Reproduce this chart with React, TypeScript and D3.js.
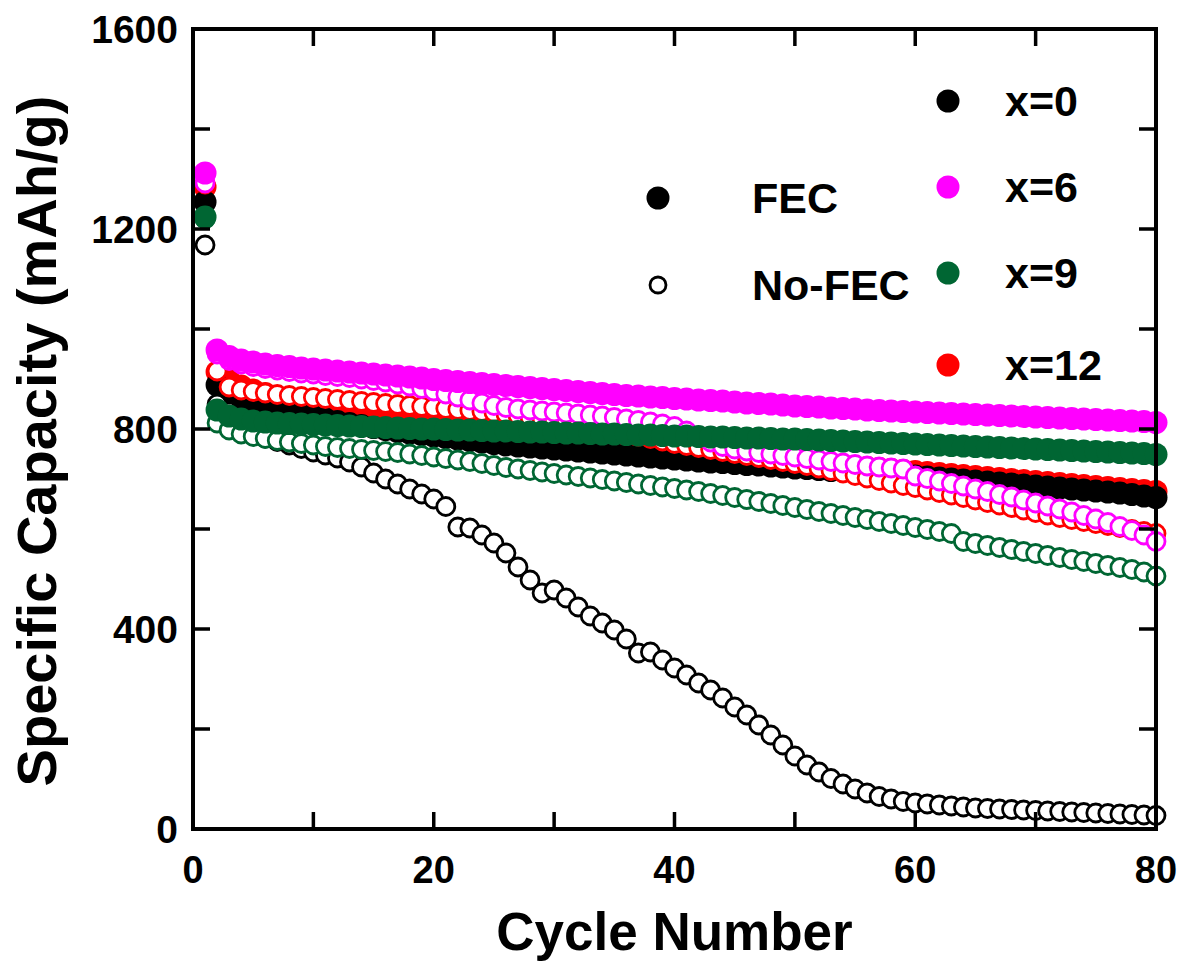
import React from 'react';
import * as d3 from 'd3';

// Specific capacity (mAh/g) vs cycle number, cycles 1..80
const fec0 = [1254, 888, 872, 862, 855, 848, 842, 836, 830, 825, 820, 815, 811, 807, 803, 799, 795, 792, 789, 786, 783, 780, 777, 774, 771, 768, 766, 764, 762, 760, 758, 756, 754, 752, 750, 748, 746, 744, 742, 740, 738, 736, 734, 733, 731, 729, 728, 726, 724, 722, 721, 719, 717, 716, 714, 712, 711, 709, 707, 706, 704, 702, 700, 698, 696, 694, 692, 690, 688, 686, 684, 682, 680, 678, 676, 674, 672, 669, 666, 663];
const fec6 = [1312, 958, 945, 938, 934, 930, 927, 925, 922, 920, 918, 916, 914, 912, 910, 908, 906, 904, 902, 899, 897, 895, 893, 891, 889, 887, 885, 883, 881, 879, 877, 875, 873, 871, 869, 867, 866, 864, 863, 861, 860, 858, 857, 856, 854, 852, 851, 850, 848, 846, 845, 844, 842, 841, 840, 838, 837, 836, 835, 834, 833, 832, 831, 830, 829, 828, 827, 826, 825, 824, 823, 822, 821, 820, 819, 818, 817, 816, 815, 813];
const fec9 = [1224, 838, 826, 820, 816, 814, 812, 811, 810, 809, 808, 807, 806, 805, 804, 803, 802, 801, 800, 800, 799, 798, 798, 797, 796, 796, 795, 794, 794, 793, 792, 792, 791, 790, 790, 789, 788, 788, 787, 786, 786, 785, 784, 784, 783, 782, 782, 781, 780, 780, 779, 778, 777, 776, 775, 774, 773, 772, 771, 770, 769, 768, 767, 766, 765, 764, 763, 762, 761, 760, 759, 758, 757, 756, 755, 754, 753, 752, 751, 749];
const fec12 = [1284, 914, 897, 886, 878, 871, 865, 859, 854, 849, 844, 840, 836, 832, 828, 824, 820, 817, 814, 811, 808, 805, 802, 799, 796, 793, 790, 787, 785, 782, 779, 776, 774, 771, 768, 766, 763, 761, 758, 756, 754, 751, 749, 747, 745, 743, 741, 739, 737, 735, 733, 731, 729, 727, 725, 723, 721, 719, 717, 715, 713, 711, 709, 707, 705, 703, 701, 699, 697, 695, 693, 691, 689, 687, 685, 683, 681, 679, 677, 675];
const nofec0 = [1168, 850, 815, 800, 790, 782, 775, 768, 761, 754, 748, 742, 734, 724, 712, 700, 690, 680, 670, 660, 645, 604, 602, 588, 572, 552, 524, 498, 472, 478, 462, 444, 426, 412, 398, 380, 352, 354, 338, 322, 308, 292, 278, 262, 244, 228, 208, 188, 168, 146, 128, 114, 101, 90, 80, 72, 65, 60, 55, 52, 50, 48, 46, 44, 42, 41, 40, 39, 38, 37, 36, 35, 34, 33, 32, 31, 30, 29, 28, 27];
const nofec6 = [1292, 950, 937, 930, 925, 921, 918, 915, 912, 910, 907, 905, 903, 900, 897, 894, 890, 886, 881, 876, 870, 864, 858, 852, 847, 843, 840, 838, 836, 834, 832, 830, 828, 826, 823, 820, 817, 814, 810, 805, 796, 785, 774, 765, 760, 756, 753, 750, 747, 744, 741, 738, 735, 732, 729, 726, 724, 722, 720, 706, 701, 696, 691, 686, 680, 675, 669, 664, 658, 652, 646, 640, 634, 627, 620, 613, 605, 597, 588, 575];
const nofec9 = [1220, 812, 798, 790, 785, 781, 777, 774, 771, 768, 765, 763, 761, 759, 757, 755, 753, 750, 747, 744, 741, 738, 735, 731, 727, 723, 720, 717, 714, 711, 708, 705, 702, 699, 696, 693, 690, 687, 684, 681, 678, 675, 671, 667, 663, 659, 655, 651, 647, 643, 639, 635, 631, 627, 623, 619, 615, 611, 607, 603, 599, 595, 591, 575, 571, 567, 563, 559, 555, 551, 547, 543, 539, 535, 531, 527, 523, 519, 514, 506];
const nofec12 = [1290, 916, 884, 878, 875, 872, 869, 867, 865, 863, 861, 859, 857, 855, 853, 851, 849, 847, 845, 843, 841, 839, 837, 835, 833, 830, 827, 823, 819, 815, 811, 807, 803, 799, 795, 790, 786, 781, 776, 771, 767, 763, 759, 755, 751, 747, 743, 739, 735, 731, 727, 722, 717, 712, 707, 702, 697, 692, 687, 683, 678, 673, 668, 663, 658, 653, 648, 643, 638, 633, 628, 623, 619, 615, 611, 607, 603, 599, 595, 591];

const xTickLabels = [0, 20, 40, 60, 80];
const yTickLabels = [0, 400, 800, 1200, 1600];
const xMinorTicks = [10, 30, 50, 70];
const yMinorTicks = [200, 600, 1000, 1400];

const seriesLabels = ['x=0', 'x=6', 'x=9', 'x=12'];
const seriesColors = ['#000000', '#FF00FF', '#006633', '#FF0000'];
const typeLabels = ['FEC', 'No-FEC'];

const W = 1180;
const H = 961;
const FONT = '"Liberation Sans", Arial, Helvetica, sans-serif';

export default function App() {
  const x = d3.scaleLinear().domain([0, 80]).range([193, 1156]);
  const y = d3.scaleLinear().domain([0, 1600]).range([829, 29]);
  const [x0, x1] = x.range();
  const [y0, y1] = y.range();
  const tickLen = 17;

  // draw order bottom -> top
  const layers: { data: number[]; color: string; filled: boolean }[] = [
    { data: fec12, color: seriesColors[3], filled: true },
    { data: fec0, color: seriesColors[0], filled: true },
    { data: nofec0, color: seriesColors[0], filled: false },
    { data: nofec9, color: seriesColors[2], filled: false },
    { data: nofec12, color: seriesColors[3], filled: false },
    { data: nofec6, color: seriesColors[1], filled: false },
    { data: fec6, color: seriesColors[1], filled: true },
    { data: fec9, color: seriesColors[2], filled: true },
  ];

  const allX = [...xTickLabels, ...xMinorTicks];
  const allY = [...yTickLabels, ...yMinorTicks];

  const legendRowsY = [101, 187, 273, 365];
  const typeRowsY = [198, 285];

  return (
    <svg width={W} height={H} style={{ position: 'absolute', left: 0, top: 0, background: '#fff' }}>
      <rect x={0} y={0} width={W} height={H} fill="#fff" />
      {/* data */}
      {layers.map((l, li) => (
        <g key={li}>
          {l.data.map((v, i) =>
            l.filled ? (
              <circle key={i} cx={x(i + 1)} cy={y(v)} r={11.5} fill={l.color} />
            ) : (
              <circle key={i} cx={x(i + 1)} cy={y(v)} r={9} fill="#fff" stroke={l.color} strokeWidth={2.8} />
            )
          )}
        </g>
      ))}
      {/* frame */}
      <rect x={x0} y={y1} width={x1 - x0} height={y0 - y1} fill="none" stroke="#000" strokeWidth={4} />
      {/* ticks */}
      {allX.map((t) => (
        <g key={'xt' + t}>
          <line x1={x(t)} x2={x(t)} y1={y0} y2={y0 - tickLen} stroke="#000" strokeWidth={3.5} />
          <line x1={x(t)} x2={x(t)} y1={y1} y2={y1 + tickLen} stroke="#000" strokeWidth={3.5} />
        </g>
      ))}
      {allY.map((t) => (
        <g key={'yt' + t}>
          <line x1={x0} x2={x0 + tickLen} y1={y(t)} y2={y(t)} stroke="#000" strokeWidth={3.5} />
          <line x1={x1} x2={x1 - tickLen} y1={y(t)} y2={y(t)} stroke="#000" strokeWidth={3.5} />
        </g>
      ))}
      {/* tick labels */}
      {xTickLabels.map((t) => (
        <text key={'xl' + t} x={x(t)} y={883} textAnchor="middle" fontFamily={FONT} fontWeight="bold" fontSize={38}>
          {t}
        </text>
      ))}
      {yTickLabels.map((t) => (
        <text key={'yl' + t} x={178} y={y(t)} dy="0.36em" textAnchor="end" fontFamily={FONT} fontWeight="bold" fontSize={39}>
          {t}
        </text>
      ))}
      {/* axis titles */}
      <text x={(x0 + x1) / 2} y={950} textAnchor="middle" fontFamily={FONT} fontWeight="bold" fontSize={53}>
        Cycle Number
      </text>
      <text
        transform={`translate(56, ${(y0 + y1) / 2 + 12}) rotate(-90)`}
        textAnchor="middle"
        fontFamily={FONT}
        fontWeight="bold"
        fontSize={56}
      >
        Specific Capacity (mAh/g)
      </text>
      {/* legend: series */}
      {seriesLabels.map((s, i) => (
        <g key={'lg' + s}>
          <circle cx={948} cy={legendRowsY[i]} r={11.5} fill={seriesColors[i]} />
          <text x={1005} y={legendRowsY[i]} dy="0.36em" fontFamily={FONT} fontWeight="bold" fontSize={43}>
            {s}
          </text>
        </g>
      ))}
      {/* legend: electrolyte */}
      {typeLabels.map((s, i) => (
        <g key={'tp' + s}>
          {i === 0 ? (
            <circle cx={658} cy={typeRowsY[i]} r={11.5} fill="#000" />
          ) : (
            <circle cx={658} cy={typeRowsY[i]} r={8} fill="#fff" stroke="#000" strokeWidth={2.8} />
          )}
          <text x={752} y={typeRowsY[i]} dy="0.36em" fontFamily={FONT} fontWeight="bold" fontSize={43}>
            {s}
          </text>
        </g>
      ))}
    </svg>
  );
}
